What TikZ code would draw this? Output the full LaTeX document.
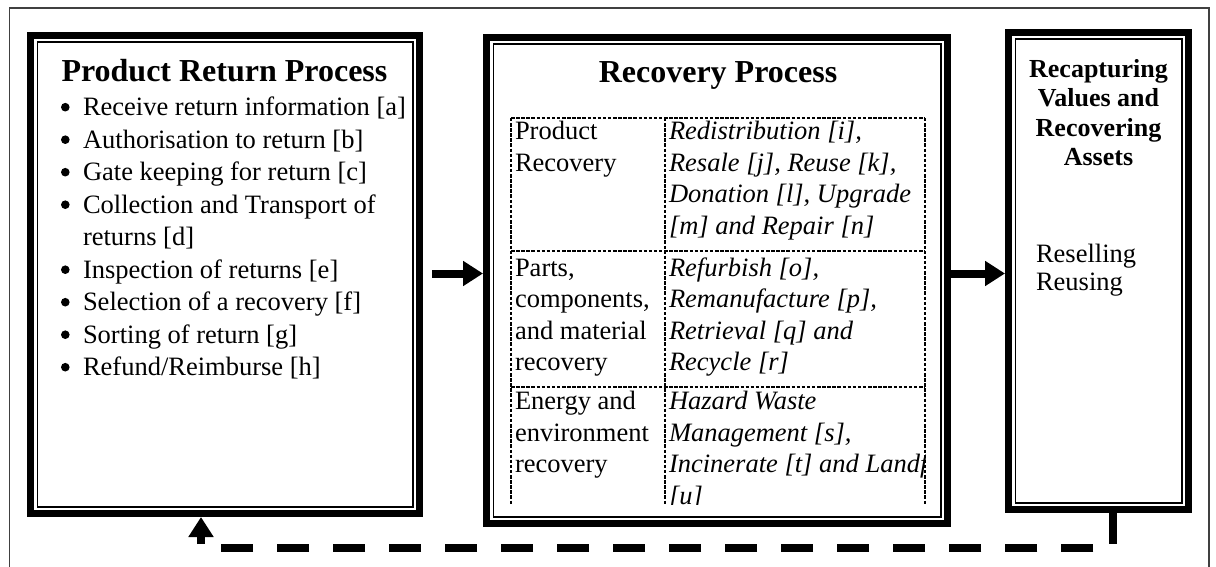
\documentclass[tikz,border=0pt]{standalone}
\usepackage{fontspec}
\setmainfont{Liberation Serif}
\usetikzlibrary{arrows.meta}

\tikzset{
  boxarea/.style={inner sep=0pt, outer sep=0pt, anchor=north west},
  fatarrow/.style={line width=8pt, -{Triangle[length=20pt,width=24pt]}},
  tabrule/.style={line width=1.2pt, dash pattern=on 3.5pt off 1.6pt},
  feedline/.style={line width=8pt},
  txt/.style={inner sep=0pt, outer sep=0pt, anchor=base west},
  ctxt/.style={inner sep=0pt, outer sep=0pt, anchor=base},
  bulletdot/.style={fill=black},
}
\newcommand\bodysize{\fontsize{26.5}{32.5}\selectfont}
\newcommand\tabsize{\fontsize{26.5}{31.5}\selectfont}
\newcommand\headsize{\fontsize{32}{36}\selectfont\bfseries}
% thick outer rule with a thin inner rule, following a box node
\newcommand\thickthin[1]{%
  \draw[line width=7pt] ([shift={(3.5pt,-3.5pt)}]#1.north west) rectangle ([shift={(-3.5pt,3.5pt)}]#1.south east);
  \draw[line width=1.4pt] ([shift={(10.2pt,-10.2pt)}]#1.north west) rectangle ([shift={(-10.2pt,10.2pt)}]#1.south east);}
% list entry: room for the bullet, hanging indent for wrapped lines
\newcommand\bitem[1]{\noindent\hangindent=21pt\hangafter=1\hspace*{21pt}#1\par}

\begin{document}
\begin{tikzpicture}[x=1pt, y=-1pt]
\useasboundingbox (0,0) rectangle (1216,567);

% surrounding frame (open at the bottom)
\draw[line width=1.3pt, black!75] (9.7,567) -- (9.7,8) -- (1209,8) -- (1209,567);

% the three process boxes
\node[boxarea, minimum width=396pt, minimum height=485pt] (ret) at (27,32) {};
\node[boxarea, minimum width=468pt, minimum height=493pt] (rec) at (483,34) {};
\node[boxarea, minimum width=187pt, minimum height=484pt] (cap) at (1005,29) {};
\thickthin{ret}
\thickthin{rec}
\thickthin{cap}

% product return process
\node[txt, font=\headsize] (rettitle) at (61.5,82) {Product Return Process};
\node[txt] (retlist) at (62,116) {\parbox[t]{400pt}{\bodysize\raggedright
  \bitem{Receive return information [a]}
  \bitem{Authorisation to return [b]}
  \bitem{Gate keeping for return [c]}
  \bitem{Collection and Transport of\newline returns [d]}
  \bitem{Inspection of returns [e]}
  \bitem{Selection of a recovery [f]}
  \bitem{Sorting of return [g]}
  \bitem{Refund/Reimburse [h]}}};
\foreach \k in {0,1,2,3,5,6,7,8}
  \fill[bulletdot] (65.3,116+32.5*\k-8.8) circle[radius=4.3pt];

% recovery process
\node[ctxt, font=\headsize] (rectitle) at (718,83) {Recovery Process};
\draw[tabrule] (511,118) -- (925,118);
\draw[tabrule] (511,251) -- (925,251);
\draw[tabrule] (511,387) -- (925,387);
\draw[tabrule] (511,118) -- (511,505);
\draw[tabrule] (665,118) -- (665,505);
\draw[tabrule] (925,118) -- (925,505);

\node[txt] (c11) at (515,140) {\parbox[t]{150pt}{\tabsize\raggedright Product\\Recovery}};
\node[txt] (c21) at (515,276) {\parbox[t]{150pt}{\tabsize\raggedright Parts,\\components,\\and material\\recovery}};
\node[txt] (c31) at (515,409.5) {\parbox[t]{150pt}{\tabsize\raggedright Energy and\\environment\\recovery}};
\begin{scope}
  \clip (665,118) rectangle (925,504.5);
  \node[txt] (c12) at (669,140) {\parbox[t]{400pt}{\tabsize\itshape\raggedright Redistribution [i],\\Resale [j], Reuse [k],\\Donation [l], Upgrade\\\relax[m] and Repair [n]}};
  \node[txt] (c22) at (669,276) {\parbox[t]{400pt}{\tabsize\itshape\raggedright Refurbish [o],\\Remanufacture [p],\\Retrieval [q] and\\Recycle [r]}};
  \node[txt] (c32) at (669,409.5) {\parbox[t]{400pt}{\tabsize\itshape\raggedright Hazard Waste\\Management [s],\\Incinerate [t] and Landfill\\\relax[u]}};
\end{scope}

% recapturing values
\node[ctxt] (captitle) at (1098.5,77.5) {\parbox[t]{185pt}{\centering\fontsize{26}{29.3}\selectfont\bfseries Recapturing\\Values and\\Recovering\\Assets}};
\node[txt] (capbody) at (1036,262) {\parbox[t]{150pt}{\fontsize{26.5}{28.5}\selectfont\raggedright Reselling\\Reusing}};

% forward flow
\coordinate (flow) at (432,273.5);
\draw[fatarrow] (flow) -- (flow -| rec.west);
\draw[fatarrow] (flow -| rec.east) -- (flow -| cap.west);

% feedback loop
\coordinate (fbtop) at ([xshift=14.8pt]cap.south);
\coordinate (fbbot) at (1113.3,544);
\coordinate (fbright) at (1093.3,548);
\coordinate (fbleft) at (221,548);
\coordinate (fbup) at (201,544);
\draw[feedline] (fbtop) -- (fbbot);
\draw[feedline, dash pattern=on 32pt off 24.02pt] (fbright) -- (fbleft);
\draw[fatarrow] (fbup) -- (fbup |- ret.south);
\end{tikzpicture}
\end{document}
